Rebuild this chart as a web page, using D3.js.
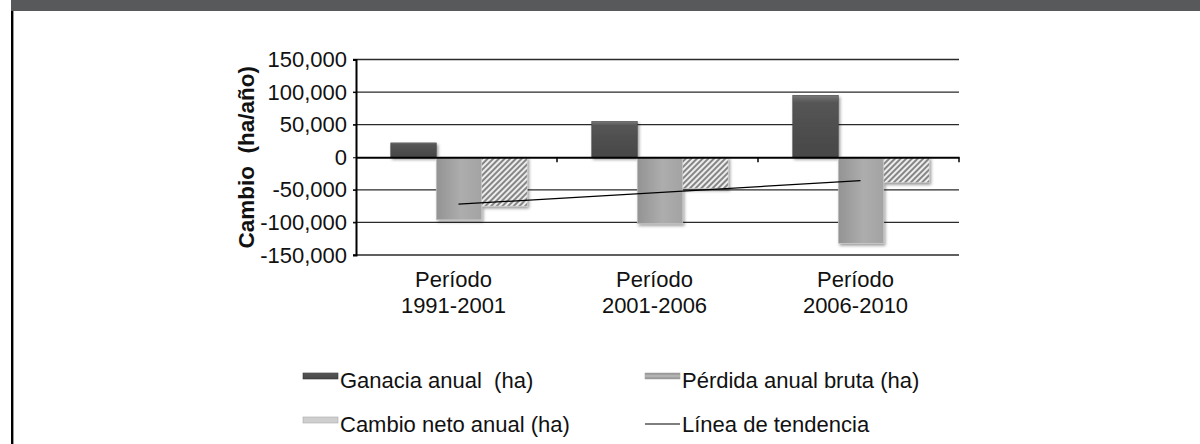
<!DOCTYPE html>
<html>
<head>
<meta charset="utf-8">
<script src="https://cdn.jsdelivr.net/npm/d3@7"></script>
<style>
  body { margin: 0; background: #fff; }
  svg { display: block; font-family: "Liberation Sans", Arial, Helvetica, sans-serif; }
</style>
</head>
<body>
<div id="plot"></div>
<script>
// Data
var periods = ["Período\n1991-2001", "Período\n2001-2006", "Período\n2006-2010"];
var seriesNames = ["Ganacia anual  (ha)", "Pérdida anual bruta (ha)", "Cambio neto anual (ha)", "Línea de tendencia"];
var ganancia = [22000, 55000, 95000];
var perdida = [-96000, -102000, -132000];
var cambioNeto = [-75000, -48000, -39000];
// linear trend of the net change, first and last period
var tendencia = [-72000, -36000];
var yTicks = [-150000, -100000, -50000, 0, 50000, 100000, 150000];

/* Step 1
 * workspace
 */
// =================================
var svgWidth = 1200;
var svgHeight = 444;

var plot = { left: 356, right: 959, top: 59.5, bottom: 255 };

var svg = d3.select("#plot")
    .append("svg")
    .attr("width", svgWidth)
    .attr("height", svgHeight);

var defs = svg.append("defs");

// dark bar gradient
var gDark = defs.append("linearGradient").attr("id", "gDark")
    .attr("x1", 0).attr("y1", 0).attr("x2", 0).attr("y2", 1);
gDark.append("stop").attr("offset", "0%").attr("stop-color", "#777");
gDark.append("stop").attr("offset", "12%").attr("stop-color", "#555");
gDark.append("stop").attr("offset", "100%").attr("stop-color", "#474747");

// light bar gradient
var gLight = defs.append("linearGradient").attr("id", "gLight")
    .attr("x1", 0).attr("y1", 0).attr("x2", 1).attr("y2", 0);
gLight.append("stop").attr("offset", "0%").attr("stop-color", "#939393");
gLight.append("stop").attr("offset", "55%").attr("stop-color", "#adadad");
gLight.append("stop").attr("offset", "100%").attr("stop-color", "#a3a3a3");

// hatch pattern
var hatch = defs.append("pattern").attr("id", "hatch")
    .attr("patternUnits", "userSpaceOnUse")
    .attr("width", 4).attr("height", 4)
    .attr("patternTransform", "rotate(45)");
hatch.append("rect").attr("width", 4).attr("height", 4).attr("fill", "#ededed");
hatch.append("line").attr("x1", 1).attr("y1", 0).attr("x2", 1).attr("y2", 4)
    .attr("stroke", "#7a7a7a").attr("stroke-width", 1.8);

// legend icon gradients
var gIconP = defs.append("linearGradient").attr("id", "gIconP")
    .attr("x1", 0).attr("y1", 0).attr("x2", 0).attr("y2", 1);
gIconP.append("stop").attr("offset", "0%").attr("stop-color", "#888");
gIconP.append("stop").attr("offset", "50%").attr("stop-color", "#bbb");
gIconP.append("stop").attr("offset", "100%").attr("stop-color", "#888");

// soft shadow under the bars
var shadow = defs.append("filter").attr("id", "shadow")
    .attr("x", "-20%").attr("y", "-20%").attr("width", "140%").attr("height", "140%");
shadow.append("feDropShadow").attr("dx", 1.5).attr("dy", 2).attr("stdDeviation", 1.5)
    .attr("flood-color", "#000").attr("flood-opacity", 0.4);

// frame: dark band on top, black rule on the left
svg.append("rect").attr("x", 11).attr("y", 0).attr("width", svgWidth - 11).attr("height", 11)
    .attr("fill", "#58595b");
svg.append("rect").attr("x", 11).attr("y", 11).attr("width", 2.4).attr("height", svgHeight - 11)
    .attr("fill", "#000");

/* Step 2
 * scales
 */
// =================================
var x0 = d3.scaleBand()
    .domain(periods)
    .range([plot.left, plot.right]);

var bw = x0.bandwidth();

var x1 = d3.scaleBand()
    .domain([0, 1, 2])
    .range([2.5, bw + 2.5])
    .paddingInner(0)
    .paddingOuter(0.71);

var yScale = d3.scaleLinear()
    .domain([-150000, 150000])
    .range([plot.bottom, plot.top]);

// plain hyphen for negatives, like the original
var fmt = d => d3.format(",")(d).replace("\u2212", "-");

/* Step 3
 * grid and axes
 */
// =================================
var grid = svg.append("g");
grid.selectAll("line")
    .data(yTicks.filter(d => d !== 0))
    .enter()
    .append("line")
    .attr("x1", plot.left - 3)
    .attr("x2", plot.right)
    .attr("y1", d => yScale(d))
    .attr("y2", d => yScale(d))
    .attr("stroke", "#2a2a2a")
    .attr("stroke-width", 1.4);

var leftAxis = d3.axisLeft(yScale)
    .tickValues(yTicks)
    .tickFormat(fmt)
    .tickSize(3)
    .tickPadding(6);

var yAxisG = svg.append("g")
    .attr("transform", `translate(${plot.left}, 0)`)
    .call(leftAxis);
yAxisG.select(".domain").attr("stroke", "#000").attr("stroke-width", 2);
yAxisG.selectAll(".tick line").attr("stroke", "#000");
yAxisG.selectAll(".tick text")
    .attr("font-size", "22px")
    .attr("font-family", "Liberation Sans, Arial, sans-serif")
    .attr("fill", "#111");

// Y axis title
svg.append("text")
    .attr("transform", "rotate(-90)")
    .attr("x", -(plot.top + plot.bottom) / 2)
    .attr("y", 254)
    .attr("text-anchor", "middle")
    .attr("font-size", "22.5px")
    .attr("font-weight", "bold")
    .attr("fill", "#111")
    .attr("xml:space", "preserve")
    .text("Cambio  (ha/año)");

/* Step 4
 * bars
 */
// =================================
var series = [
    { values: ganancia, fill: "url(#gDark)" },
    { values: perdida, fill: "url(#gLight)" },
    { values: cambioNeto, fill: "url(#hatch)" }
];

var barsG = svg.append("g").attr("filter", "url(#shadow)");
series.forEach(function (s, si) {
    barsG.selectAll(".bar" + si)
        .data(s.values)
        .enter()
        .append("rect")
        .attr("x", (d, i) => x0(periods[i]) + x1(si))
        .attr("width", x1.bandwidth())
        .attr("y", d => yScale(Math.max(0, d)))
        .attr("height", d => Math.abs(yScale(d) - yScale(0)))
        .attr("fill", s.fill)
        .attr("stroke", si === 0 ? "#444" : "#c8c8c8")
        .attr("stroke-width", 0.6);
});

// zero line with category ticks
var bottomAxis = d3.axisBottom(x0)
    .tickValues([])
    .tickSizeOuter(0);
var zeroG = svg.append("g")
    .attr("transform", `translate(0, ${yScale(0)})`)
    .call(bottomAxis);
zeroG.select(".domain").attr("stroke", "#000").attr("stroke-width", 2.2);
zeroG.selectAll(".sep")
    .data(periods)
    .enter()
    .append("line")
    .attr("class", "sep")
    .attr("x1", d => x0(d) + bw)
    .attr("x2", d => x0(d) + bw)
    .attr("y1", 0)
    .attr("y2", 5)
    .attr("stroke", "#000")
    .attr("stroke-width", 1.5);

// trend line
var trendX = [x0(periods[0]) + bw / 2 + 2, x0(periods[2]) + bw / 2 + 2];
svg.append("line")
    .attr("x1", trendX[0]).attr("y1", yScale(tendencia[0]))
    .attr("x2", trendX[1]).attr("y2", yScale(tendencia[1]))
    .attr("stroke", "#000")
    .attr("stroke-width", 1.2);

/* Step 5
 * category labels
 */
// =================================
var catG = svg.append("g");
periods.forEach(function (p) {
    var lines = p.split("\n");
    var t = catG.append("text")
        .attr("text-anchor", "middle")
        .attr("font-size", "22px")
        .attr("fill", "#111");
    lines.forEach(function (l, li) {
        t.append("tspan")
            .attr("x", x0(p) + bw / 2 - 3)
            .attr("y", 287 + li * 26)
            .text(l);
    });
});

/* Step 6
 * legend
 */
// =================================
var legendItems = [
    { name: seriesNames[0], x: 303, y: 388, type: "dark" },
    { name: seriesNames[1], x: 645, y: 388, type: "perdida" },
    { name: seriesNames[2], x: 303, y: 432, type: "cambio" },
    { name: seriesNames[3], x: 645, y: 432, type: "line" }
];

var legend = svg.append("g");
legendItems.forEach(function (it) {
    if (it.type === "line") {
        legend.append("line")
            .attr("x1", it.x).attr("x2", it.x + 35)
            .attr("y1", it.y - 8).attr("y2", it.y - 8)
            .attr("stroke", "#000").attr("stroke-width", 1.2);
    } else {
        var fill = it.type === "dark" ? "url(#gDark)" : (it.type === "perdida" ? "url(#gIconP)" : "#cfcfcf");
        legend.append("rect")
            .attr("x", it.x).attr("y", it.y - 15)
            .attr("width", 35).attr("height", 6)
            .attr("fill", fill)
            .attr("stroke", it.type === "dark" ? "#333" : "#aaa")
            .attr("stroke-width", 0.6);
    }
    legend.append("text")
        .attr("x", it.x + 37)
        .attr("y", it.y)
        .attr("font-size", "22px")
        .attr("fill", "#111")
        .attr("xml:space", "preserve")
        .text(it.name);
});
</script>
</body>
</html>
